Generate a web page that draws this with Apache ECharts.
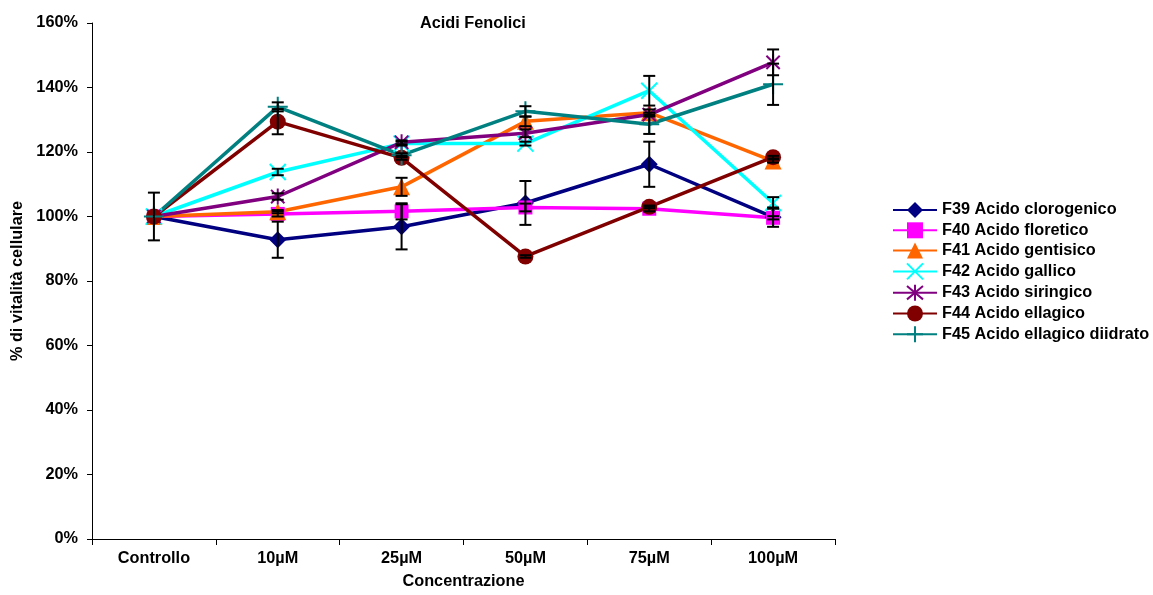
<!DOCTYPE html>
<html>
<head>
<meta charset="utf-8">
<title>Acidi Fenolici</title>
<script src="https://cdn.jsdelivr.net/npm/echarts@6/dist/echarts.min.js"></script>
<style>
  html, body { margin: 0; padding: 0; background: #fff; }
  #chart { width: 1153px; height: 595px; }
</style>
</head>
<body>
<div id="chart"></div>
<script>
// Concentrations tested
const categories = ['Controllo', '10µM', '25µM', '50µM', '75µM', '100µM'];

// Cell viability (%) for each phenolic acid
const f39 = [100, 92.8, 96.8, 104.2, 116.2, 99.8];
const f40 = [100, 100.8, 101.6, 102.8, 102.4, 99.6];
const f41 = [100, 101.5, 109.2, 129.5, 132.2, 117.2];
const f42 = [100, 113.8, 122.6, 122.6, 139.0, 104.2];
const f43 = [100, 106.2, 123.0, 125.8, 131.6, 147.8];
const f44 = [100, 129.4, 118.2, 87.6, 103.0, 118.4];
const f45 = [100, 134.0, 119.0, 132.6, 128.6, 141.0];

// Standard deviations (±, in %)
const f39Err = [7.4, 5.6, 7.0, 6.8, 7.0, 3.0];
const f40Err = [0, 0.8, 2.5, 1.2, 0.8, 0.5];
const f41Err = [0, 0.5, 2.8, 1.5, 1.0, 0.5];
const f42Err = [0, 1.0, 0.6, 0.6, 4.6, 1.8];
const f43Err = [0, 1.0, 0.6, 1.2, 0.6, 4.0];
const f44Err = [0, 3.9, 0.6, 0.4, 0.4, 0.4];
const f45Err = [0, 1.4, 0.6, 1.6, 3.0, 6.4];

// Y axis ticks
const yMin = 0, yMax = 160, yStep = 20;

const FONT = '"Liberation Sans", Arial, sans-serif';
const FS = 16.3;

const xMark = 'path://M0,0L10,10M10,0L0,10';
const starMark = 'path://M0,0L10,10M10,0L0,10M5,-1L5,11';
const plusMark = 'path://M5,0L5,10M0,5L10,5';

const defs = [
  { name: 'F39 Acido clorogenico', data: f39, err: f39Err, color: '#000080', symbol: 'diamond', size: 17, stroke: false },
  { name: 'F40 Acido floretico', data: f40, err: f40Err, color: '#FF00FF', symbol: 'rect', size: 14, stroke: false },
  { name: 'F41 Acido gentisico', data: f41, err: f41Err, color: '#FF6600', symbol: 'triangle', size: 17, stroke: false },
  { name: 'F42 Acido gallico', data: f42, err: f42Err, color: '#00FFFF', symbol: xMark, size: 16, stroke: true },
  { name: 'F43 Acido siringico', data: f43, err: f43Err, color: '#800080', symbol: starMark, size: 16, stroke: true },
  { name: 'F44 Acido ellagico', data: f44, err: f44Err, color: '#800000', symbol: 'circle', size: 16, stroke: false },
  { name: 'F45 Acido ellagico diidrato', data: f45, err: f45Err, color: '#008080', symbol: plusMark, size: 20, stroke: true }
];

const lineSeries = defs.map(d => ({
  name: d.name,
  type: 'line',
  data: d.data,
  color: d.color,
  symbol: d.symbol,
  symbolSize: d.size,
  symbolKeepAspect: true,
  showAllSymbol: true,
  lineStyle: { color: d.color, width: 3.5 },
  itemStyle: d.stroke
    ? { color: 'rgba(0,0,0,0)', borderColor: d.color, borderWidth: 2 }
    : { color: d.color, borderWidth: 0 },
  emphasis: { disabled: true },
  z: 3
}));

// Error bars: vertical whisker with caps, one set per series
const errData = [];
defs.forEach(d => {
  d.data.forEach((v, i) => { if (d.err[i] > 0) errData.push([i, v, d.err[i]]); });
});

const errorSeries = {
  type: 'custom',
  name: 'errori',
  data: errData,
  z: 4,
  silent: true,
  encode: { x: 0, y: 1 },
  renderItem: function (params, api) {
    const i = api.value(0), v = api.value(1), e = api.value(2);
    const hi = api.coord([i, v + e]);
    const lo = api.coord([i, v - e]);
    const w = 6;
    const st = { stroke: '#000', lineWidth: 2 };
    return {
      type: 'group',
      children: [
        { type: 'line', shape: { x1: hi[0], y1: hi[1], x2: lo[0], y2: lo[1] }, style: st },
        { type: 'line', shape: { x1: hi[0] - w, y1: hi[1], x2: hi[0] + w, y2: hi[1] }, style: st },
        { type: 'line', shape: { x1: lo[0] - w, y1: lo[1], x2: lo[0] + w, y2: lo[1] }, style: st }
      ]
    };
  }
};

const chart = echarts.init(document.getElementById('chart'), null, { renderer: 'canvas' });
chart.setOption({
  animation: false,
  backgroundColor: '#fff',
  title: {
    text: 'Acidi Fenolici',
    left: 420,
    top: 15,
    padding: 0,
    textStyle: { fontFamily: FONT, fontWeight: 'bold', fontSize: FS, lineHeight: 18, color: '#000' }
  },
  legend: {
    orient: 'vertical',
    left: 892,
    top: 201.5,
    padding: 0,
    itemWidth: 44,
    itemHeight: 20,
    itemGap: 3.3,
    data: defs.map(d => d.name),
    textStyle: { fontFamily: FONT, fontWeight: 'bold', fontSize: FS, lineHeight: 17, color: '#000' }
  },
  grid: { left: 92, right: 318, top: 23, bottom: 50, containLabel: false },
  xAxis: {
    type: 'category',
    data: categories,
    boundaryGap: true,
    name: 'Concentrazione',
    nameLocation: 'middle',
    nameGap: 35,
    nameTextStyle: { fontFamily: FONT, fontWeight: 'bold', fontSize: FS, color: '#000' },
    axisLine: { lineStyle: { color: '#000', width: 1 } },
    axisTick: { show: true, length: 6, lineStyle: { color: '#000' } },
    axisLabel: { margin: 12, fontFamily: FONT, fontWeight: 'bold', fontSize: FS, color: '#000' },
    splitLine: { show: false }
  },
  yAxis: {
    type: 'value',
    min: yMin,
    max: yMax,
    interval: yStep,
    name: '% di vitalità cellulare',
    nameLocation: 'middle',
    nameGap: 64,
    nameTextStyle: { fontFamily: FONT, fontWeight: 'bold', fontSize: FS, color: '#000' },
    axisLine: { show: true, lineStyle: { color: '#000', width: 1 } },
    axisTick: { show: true, length: 5, lineStyle: { color: '#000' } },
    axisLabel: { margin: 14, formatter: '{value}%', fontFamily: FONT, fontWeight: 'bold', fontSize: FS, color: '#000' },
    splitLine: { show: false }
  },
  series: lineSeries.concat([errorSeries])
});
</script>
</body>
</html>
